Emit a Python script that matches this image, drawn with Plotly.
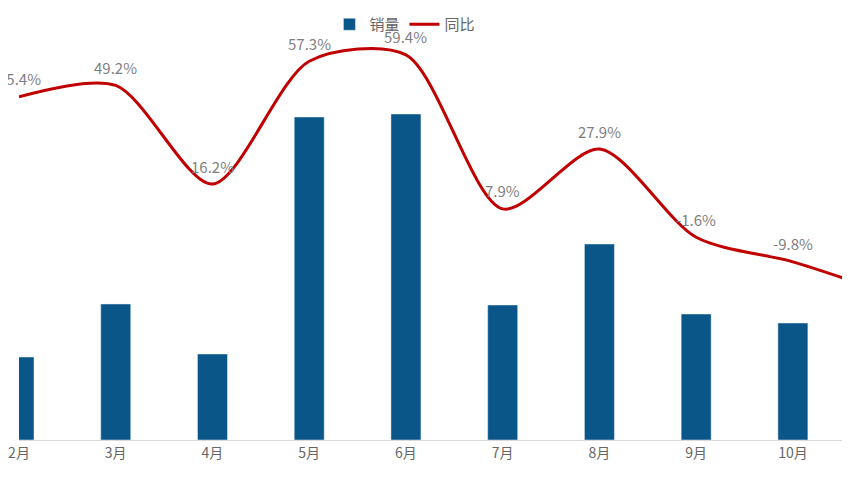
import plotly.graph_objects as go

months = ["2月", "3月", "4月", "5月", "6月", "7月", "8月", "9月", "10月", "11月"]
sales = [8.3, 13.6, 8.6, 32.3, 32.6, 13.5, 19.6, 12.6, 11.7, 10.0]
yoy = [45.4, 49.2, 16.2, 57.3, 59.4, 7.9, 27.9, -1.6, -9.8, -20.5]
yoy_labels = [f"{v:.1f}%" for v in yoy]

fig = go.Figure()
fig.add_trace(go.Bar(
    x=months, y=sales, name="销量", marker_color="#0A5688", width=0.31,
    yaxis="y"
))
fig.add_trace(go.Scatter(
    x=months, y=yoy, name="同比", mode="lines",
    line=dict(color="#C00000", width=3, shape="spline", smoothing=0.8),
    yaxis="y2", cliponaxis=False
))

for m, v, t in zip(months, yoy, yoy_labels):
    fig.add_annotation(x=m, y=v, yref="y2", text=t, showarrow=False,
                       yshift=18, font=dict(size=15, color="#7F7F7F"))

fig.update_layout(
    width=850, height=479,
    margin=dict(l=0, r=0, t=0, b=47),
    plot_bgcolor="white", paper_bgcolor="white",
    font=dict(family="Noto Sans CJK SC, Liberation Sans", size=14, color="#666666"),
    xaxis=dict(range=[0.0, 8.673], showgrid=False, showline=True,
               linecolor="#D9D9D9", ticks="", tickfont=dict(size=14, color="#666666")),
    yaxis=dict(range=[0, 43.2], visible=False),
    yaxis2=dict(range=[-69.4, 75.1], overlaying="y", visible=False),
    legend=dict(orientation="h", x=0.46, y=1.0, xanchor="center", yanchor="top",
                bgcolor="rgba(0,0,0,0)", font=dict(size=15, color="#666666")),
    showlegend=True,
)

fig.write_html("out.html")
